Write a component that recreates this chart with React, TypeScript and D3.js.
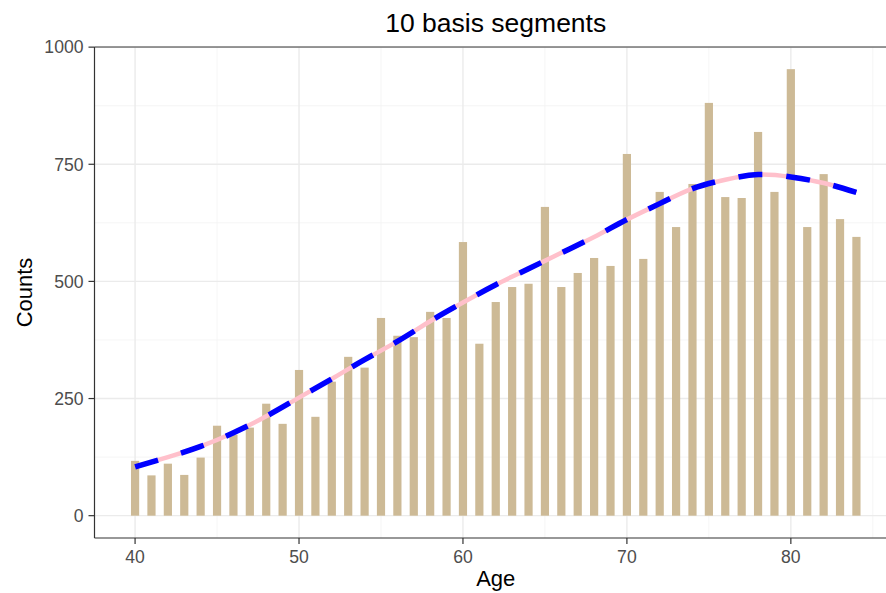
import React from 'react';
import * as d3 from 'd3';

// counts per age
const ages = d3.range(40, 85);
const counts = [
  117, 86, 111, 87, 124, 192, 173, 188, 239, 196,
  311, 211, 286, 339, 316, 422, 384, 381, 435, 422,
  584, 367, 456, 488, 495, 659, 488, 518, 550, 533,
  772, 548, 691, 616, 708, 881, 680, 678, 819, 691,
  953, 616, 729, 633, 595,
];

// fitted spline, sampled every two years
const fitAges = [40, 42, 44, 46, 48, 50, 52, 54, 56, 58, 60, 62, 64, 66, 68, 70, 72, 74, 76, 78, 80, 82, 84];
const fitValues = [104, 125, 148, 177, 212, 252, 292, 333, 372, 415, 455, 493, 527, 561, 595, 632, 666, 698, 717, 728, 723, 710, 690];

const xTicks = [40, 50, 60, 70, 80];
const xMinor = [45, 55, 65, 75, 85];
const yTicks = [0, 250, 500, 750, 1000];
const yMinor = [125, 375, 625, 875];

const W = 886;
const H = 593;
const margin = {top: 47, left: 94.5, right: 897, bottom: 538};
const font = '"Liberation Sans", Arial, sans-serif';

const App = () => {
  const barW = 0.5;
  const xMin = 40 - barW / 2, xMax = 84 + barW / 2;
  const xPad = (xMax - xMin) * 0.05;
  const x = d3.scaleLinear().domain([xMin - xPad, xMax + xPad]).range([margin.left, margin.right]);
  const yMax = d3.max(counts)!;
  const yPad = yMax * 0.05;
  const y = d3.scaleLinear().domain([-yPad, 1000.3]).range([margin.bottom, margin.top]);

  const fit = fitAges.map((a, i) => [a, fitValues[i]] as [number, number]);
  const line = d3.line<[number, number]>()
    .x(d => x(d[0]))
    .y(d => y(d[1]))
    .curve(d3.curveNatural);
  const path = line(fit) || '';

  return (
    <svg width={W} height={H} style={{display: 'block', position: 'absolute', left: 0, top: 0}} fontFamily={font}>
      <rect width={W} height={H} fill="white" />
      <defs>
        <clipPath id="panel">
          <rect x={margin.left} y={margin.top} width={margin.right - margin.left} height={margin.bottom - margin.top} />
        </clipPath>
      </defs>
      <g clipPath="url(#panel)">
        {yMinor.map(t => (
          <line key={'ym' + t} x1={margin.left} x2={margin.right} y1={y(t)} y2={y(t)} stroke="#f2f2f2" strokeWidth={0.8} />
        ))}
        {xMinor.map(t => (
          <line key={'xm' + t} x1={x(t)} x2={x(t)} y1={margin.top} y2={margin.bottom} stroke="#f2f2f2" strokeWidth={0.8} />
        ))}
        {yTicks.map(t => (
          <line key={'yg' + t} x1={margin.left} x2={margin.right} y1={y(t)} y2={y(t)} stroke="#ebebeb" strokeWidth={1.4} />
        ))}
        {xTicks.map(t => (
          <line key={'xg' + t} x1={x(t)} x2={x(t)} y1={margin.top} y2={margin.bottom} stroke="#ebebeb" strokeWidth={1.4} />
        ))}
        {ages.map((a, i) => (
          <rect key={a} x={x(a - barW / 2)} width={x(a + barW / 2) - x(a - barW / 2)}
            y={y(counts[i])} height={y(0) - y(counts[i])} fill="#CDBA96" />
        ))}
        <path d={path} fill="none" stroke="pink" strokeWidth={4.5} />
        <path d={path} fill="none" stroke="blue" strokeWidth={5.5} strokeDasharray="24 24" />
      </g>
      {/* panel border */}
      <line x1={margin.left} x2={margin.right} y1={margin.top} y2={margin.top} stroke="#333" strokeWidth={1.2} />
      <line x1={margin.left} x2={margin.right} y1={margin.bottom} y2={margin.bottom} stroke="#333" strokeWidth={1.2} />
      <line x1={margin.left} x2={margin.left} y1={margin.top} y2={margin.bottom} stroke="#333" strokeWidth={1.2} />
      {yTicks.map(t => (
        <g key={'yt' + t}>
          <line x1={margin.left - 6} x2={margin.left} y1={y(t)} y2={y(t)} stroke="#333" strokeWidth={1.2} />
          <text x={margin.left - 11} y={y(t)} dy="0.36em" textAnchor="end" fontSize={17.6} fill="#4d4d4d">{t}</text>
        </g>
      ))}
      {xTicks.map(t => (
        <g key={'xt' + t}>
          <line x1={x(t)} x2={x(t)} y1={margin.bottom} y2={margin.bottom + 6} stroke="#333" strokeWidth={1.2} />
          <text x={x(t)} y={563} textAnchor="middle" fontSize={17.6} fill="#4d4d4d">{t}</text>
        </g>
      ))}
      <text x={(margin.left + margin.right) / 2} y={32} textAnchor="middle" fontSize={26.5} fill="black">10 basis segments</text>
      <text x={(margin.left + margin.right) / 2} y={586} textAnchor="middle" fontSize={22} fill="black">Age</text>
      <text transform={`translate(32,${(margin.top + margin.bottom) / 2}) rotate(-90)`} textAnchor="middle" fontSize={22} fill="black">Counts</text>
    </svg>
  );
};

export default App;
